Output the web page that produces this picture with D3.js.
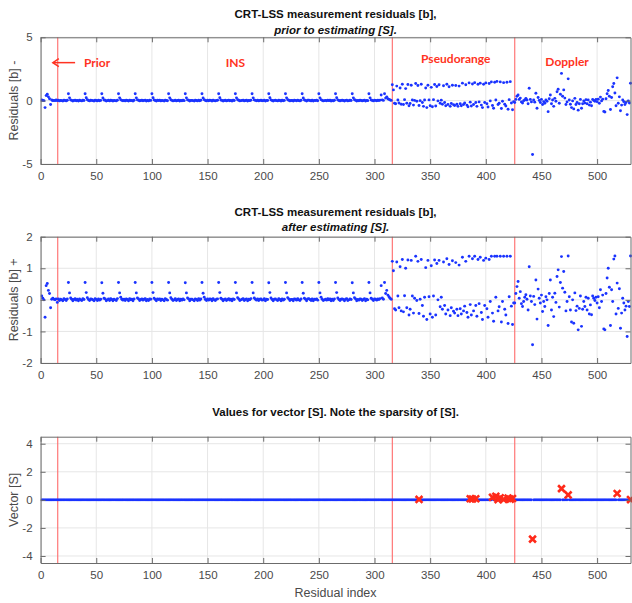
<!DOCTYPE html>
<html><head><meta charset="utf-8">
<script src="https://cdn.jsdelivr.net/npm/d3@7"></script>
<style>body{margin:0;background:#fff}svg{display:block}</style>
</head><body><svg id="c" width="632" height="603"></svg>
<script>
// ---------------- DATA ----------------
const xTicks = [0,50,100,150,200,250,300,350,400,450,500];
const yTicksTop = [-5,0,5];
const yTicksMid = [-2,-1,0,1,2];
const yTicksBot = [-4,-2,0,2,4];
const separators = [15.4, 316, 426];
const sectionLabels = ["Prior","INS","Pseudorange","Doppler"];

// Residuals, prior section (index 1..15)
const priorBefore = [0.05,0.02,0.00,-0.55,0.40,0.50,0.30,0.15,-0.30,0.05,0.00,0.02,0.00,0.05,0.00];
const priorAfter  = [0.12,0.05,0.00,-0.55,0.45,0.52,0.30,0.20,-0.25,0.02,0.05,0.02,0.00,0.03,-0.08];
// INS section (index 16..315), same in both panels
const insResid = [
 0.03,-0.02,0.02,0.00,-0.03,0.04,0.01,-0.02,0.03,0.55,0.22,0.06,0.02,-0.03,0.01,
 0.04,-0.01,0.02,-0.03,0.03,0.00,-0.02,0.04,0.01,0.55,0.23,0.07,0.01,-0.02,0.03,
 0.02,0.00,-0.03,0.04,0.01,-0.02,0.03,-0.01,0.02,0.54,0.21,0.05,0.03,-0.03,0.00,
 0.03,-0.02,0.04,0.01,-0.03,0.02,0.00,-0.02,0.04,0.55,0.22,0.08,0.02,-0.01,0.02,
 -0.02,0.03,0.01,-0.03,0.04,0.00,0.02,-0.03,0.03,0.55,0.22,0.06,0.03,-0.02,0.01,
 0.03,-0.01,0.02,0.04,-0.03,0.01,-0.02,0.03,0.02,0.55,0.23,0.05,0.01,-0.03,0.03,
 0.01,0.03,-0.02,0.02,0.00,-0.03,0.04,0.01,-0.01,0.55,0.22,0.07,0.02,-0.02,0.00,
 0.04,-0.02,0.01,0.03,-0.03,0.02,-0.01,0.03,0.00,0.54,0.22,0.06,0.03,-0.03,0.02,
 0.02,0.00,-0.03,0.03,0.01,-0.02,0.04,-0.01,0.03,0.55,0.21,0.08,0.01,-0.02,0.03,
 -0.01,0.03,0.02,-0.03,0.04,0.00,-0.02,0.02,0.03,0.55,0.23,0.05,0.02,-0.03,0.01,
 0.03,-0.02,0.01,0.04,-0.01,0.02,-0.03,0.03,0.01,0.55,0.22,0.07,0.03,-0.02,0.00,
 0.02,0.04,-0.02,0.01,0.03,-0.03,0.02,0.00,0.04,0.55,0.22,0.06,0.02,-0.01,0.03,
 -0.02,0.02,0.03,-0.01,0.00,0.04,-0.03,0.02,0.01,0.54,0.23,0.06,0.01,-0.03,0.02,
 0.03,0.00,-0.02,0.04,0.01,-0.03,0.03,-0.01,0.02,0.55,0.22,0.07,0.03,-0.02,0.01,
 0.01,-0.03,0.03,0.02,-0.01,0.04,0.00,-0.02,0.03,0.55,0.21,0.05,0.02,-0.03,0.03,
 0.04,0.01,-0.02,0.03,-0.03,0.02,0.01,0.03,-0.01,0.55,0.22,0.08,0.02,-0.02,0.00,
 0.02,-0.01,0.04,0.00,0.03,-0.03,0.02,-0.02,0.03,0.55,0.23,0.06,0.01,-0.02,0.02,
 0.03,0.01,-0.03,0.02,0.04,-0.02,0.00,0.03,0.01,0.54,0.22,0.07,0.03,-0.03,0.01,
 -0.01,0.03,0.02,-0.02,0.01,0.04,-0.03,0.02,0.00,0.55,0.22,0.05,0.02,-0.02,0.03,
 0.02,-0.01,0.03,0.01,0.04,0.45,0.06,0.02,0.55,0.20,0.30,0.15,0.10,0.05,0.02];
// Pseudorange section (index 316..425)
const prBefore = [
 1.25,0.85,-0.20,-0.25,1.15,0.05,-0.18,1.00,-0.28,1.30,
 -0.30,0.08,0.95,-0.20,1.28,-0.40,-0.22,1.22,0.05,-0.35,
 0.02,1.35,-0.05,1.20,-0.38,0.00,1.30,-0.15,-0.45,0.05,
 1.00,-0.55,1.22,0.06,-0.40,1.05,-0.48,0.08,1.28,-0.42,
 1.12,-0.02,1.25,-0.20,0.04,-0.28,1.18,-0.15,-0.40,1.30,
 -0.30,1.10,-0.45,-0.22,1.22,-0.32,-0.38,1.20,-0.28,-0.45,
 1.15,-0.25,-0.40,1.38,-0.30,-0.18,1.25,-0.35,-0.48,1.40,
 -0.12,-0.42,1.32,-0.30,1.42,-0.15,-0.45,1.30,-0.10,1.38,
 -0.35,-0.55,1.30,-0.15,1.40,-0.25,-0.50,1.35,-0.02,1.48,
 -0.38,-0.60,1.45,0.05,1.52,-0.30,-0.20,1.48,-0.62,-0.05,
 1.42,-0.28,-0.42,1.45,-0.68,0.08,1.50,-0.18,-0.72,-0.08];
const prAfter = [
 1.22,0.92,-0.28,-0.32,1.20,0.12,-0.25,1.05,-0.35,1.28,
 -0.38,0.13,1.00,-0.25,1.26,-0.48,-0.30,1.25,0.12,-0.42,
 0.05,1.38,-0.02,1.22,-0.43,0.02,1.28,-0.18,-0.52,0.08,
 1.02,-0.62,1.25,0.10,-0.45,1.08,-0.55,0.12,1.26,-0.48,
 1.15,0.00,1.25,-0.22,0.08,-0.30,1.20,-0.18,-0.45,1.30,
 -0.32,1.12,-0.50,-0.25,1.24,-0.36,-0.42,1.18,-0.30,-0.50,
 1.10,-0.28,-0.45,1.35,-0.35,-0.20,1.22,-0.40,-0.55,1.38,
 -0.15,-0.48,1.30,-0.35,1.38,-0.18,-0.52,1.28,-0.12,1.35,
 -0.40,-0.62,1.25,-0.18,1.32,-0.28,-0.55,1.28,-0.05,1.38,
 -0.42,-0.68,1.38,0.08,1.38,-0.35,-0.22,1.38,-0.70,-0.05,
 1.38,-0.30,-0.48,1.38,-0.75,0.10,1.38,-0.20,-0.78,-0.10];
// Doppler section (index 426..530)
const dopBefore = [
 -0.15,0.10,0.35,0.45,0.10,0.20,-0.10,-0.18,0.00,0.05,
 0.18,0.05,-0.25,0.98,0.10,-0.10,-4.25,0.05,-0.12,0.58,
 -0.60,0.25,0.02,-0.15,0.10,-0.30,-0.08,-0.20,0.05,-0.05,
 -0.87,0.15,0.45,-0.25,0.05,-0.45,0.18,-0.05,0.70,0.90,
 -0.20,0.50,2.15,0.35,0.85,0.20,-0.30,-0.10,1.72,0.05,
 -0.28,-0.55,-0.02,-0.65,0.18,-0.30,-0.15,-0.75,-0.25,0.10,
 -0.60,-0.25,-0.02,-0.18,0.08,-0.25,0.05,-0.35,-0.12,-0.40,
 0.10,0.02,-0.05,0.10,-0.08,0.12,-0.20,0.28,-0.02,0.12,
 -0.85,-0.90,0.15,0.55,0.80,0.35,-0.70,0.25,1.10,1.35,
 0.60,-0.40,1.80,-0.20,0.30,-0.80,-0.35,0.05,-0.08,-0.30,
 -0.15,-1.10,-0.02,-0.18,1.37];
const dopAfter = [
 -0.10,0.20,0.42,0.58,0.05,0.26,-0.12,-0.21,-0.05,0.08,
 0.16,0.02,-0.32,1.05,0.12,-0.05,-1.42,0.11,-0.15,0.63,
 -0.61,0.34,0.05,-0.10,0.15,-0.37,-0.05,-0.21,0.10,0.00,
 -0.81,0.20,0.63,-0.32,0.08,-0.53,0.21,-0.08,0.74,0.95,
 -0.23,0.55,1.37,0.37,0.90,0.24,-0.35,-0.05,1.39,0.10,
 -0.32,-0.70,0.00,-0.74,0.22,-0.34,-0.20,-0.95,-0.27,0.12,
 -0.84,-0.30,-0.05,-0.21,0.08,-0.32,0.05,-0.45,-0.16,-0.47,
 0.12,0.05,-0.02,0.08,-0.10,0.10,-0.25,0.32,-0.05,0.15,
 -0.92,-0.95,0.20,0.69,1.00,0.40,-0.81,0.32,-0.05,1.29,
 1.39,-0.45,0.53,-0.27,0.35,-0.90,-0.42,0.05,-0.10,-0.32,
 -0.20,-1.16,-0.05,-0.21,1.39];
// Sparse vector [S]: non-zero entries
const sIndex = [340,386,388,391,406,409,411,413,416,420,422,424,442,468,474,518,530];
const sValue = [0.03,0.08,0.06,0.08,0.18,0.25,0.02,0.15,0.03,0.12,0.05,0.10,-2.80,0.80,0.35,0.45,0.02];

// ---------------- BUILD ----------------
const residBefore = [].concat(priorBefore, insResid, prBefore, dopBefore);
const residAfter  = [].concat(priorAfter, insResid, prAfter, dopAfter);
const N = residBefore.length; // 530
const sVector = d3.range(N).map(() => 0);
sIndex.forEach((k,i) => { sVector[k-1] = sValue[i]; });

const svg = d3.select("#c");
const FONT = "'Liberation Sans', Arial, Helvetica, sans-serif";
const left = 40.6, right = 630.5;
const x = d3.scaleLinear().domain([0, 530]).range([left, right]);
const fmt = d => String(d);

function panel(o){
  const y = d3.scaleLinear().domain(o.domain).range([o.bottom, o.top]);
  const g = svg.append("g");
  // grid
  g.append("g").selectAll("line").data(xTicks).join("line")
    .attr("x1", d=>x(d)).attr("x2", d=>x(d)).attr("y1", o.top).attr("y2", o.bottom)
    .attr("stroke", "#e6e6e6").attr("stroke-width", 1);
  g.append("g").selectAll("line").data(o.yTicks).join("line")
    .attr("x1", left).attr("x2", right).attr("y1", d=>y(d)).attr("y2", d=>y(d))
    .attr("stroke", "#e6e6e6").attr("stroke-width", 1);
  // separators
  g.append("g").selectAll("line").data(separators).join("line")
    .attr("x1", d=>x(d)).attr("x2", d=>x(d)).attr("y1", o.top).attr("y2", o.bottom)
    .attr("stroke", "#ff6a6a").attr("stroke-width", 1.1);
  // clip for data
  const cid = "clip" + o.id;
  svg.append("clipPath").attr("id", cid).append("rect")
    .attr("x", left).attr("y", o.top - 2).attr("width", right - left + 2).attr("height", o.bottom - o.top + 4);
  const dg = g.append("g").attr("clip-path", `url(#${cid})`);
  dg.selectAll("circle").data(o.values).join("circle")
    .attr("cx", (d,i)=>x(i+1)).attr("cy", d=>y(d)).attr("r", o.r)
    .attr("fill", "#1a33ff");
  if (o.crosses){
    const s = 3.4;
    const cg = dg.append("g").selectAll("g").data(o.crosses).join("g")
      .attr("transform", d=>`translate(${x(d[0])},${y(d[1])})`);
    cg.append("path").attr("d", `M${-s},${-s}L${s},${s}M${-s},${s}L${s},${-s}`)
      .attr("stroke", "#ff2a1a").attr("stroke-width", 2.6).attr("fill","none");
  }
  // axes
  const ax = g.append("g").attr("font-family", FONT);
  const bottomAx = d3.axisBottom(x).tickValues(xTicks).tickSizeInner(-5).tickSizeOuter(0).tickPadding(8).tickFormat(fmt);
  const topAx = d3.axisTop(x).tickValues(xTicks).tickSizeInner(-5).tickSizeOuter(0).tickFormat("");
  const leftAx = d3.axisLeft(y).tickValues(o.yTicks).tickSizeInner(-5).tickSizeOuter(0).tickPadding(8).tickFormat(fmt);
  const rightAx = d3.axisRight(y).tickValues(o.yTicks).tickSizeInner(-5).tickSizeOuter(0).tickFormat("");
  ax.append("g").attr("transform", `translate(0,${o.bottom})`).call(bottomAx);
  ax.append("g").attr("transform", `translate(0,${o.top})`).call(topAx);
  ax.append("g").attr("transform", `translate(${left},0)`).call(leftAx);
  ax.append("g").attr("transform", `translate(${right},0)`).call(rightAx);
  ax.selectAll(".domain").attr("stroke", "#6b6b6b").attr("stroke-width", 1);
  ax.selectAll(".tick line").attr("stroke", "#6b6b6b");
  ax.selectAll(".tick text").attr("fill", "#4a4a4a").attr("font-size", 11.5).attr("font-family", FONT);
  // titles
  o.title.forEach((t,i)=>{
    svg.append("text").attr("x", (left+right)/2).attr("y", o.titleY[i])
      .attr("text-anchor","middle").attr("font-family", FONT).attr("font-size", 11.5)
      .attr("font-weight","bold").attr("font-style", i===1 ? "italic" : "normal")
      .attr("fill","#111").text(t);
  });
  // y label
  svg.append("text").attr("transform", `translate(${o.ylabX},${(o.top+o.bottom)/2}) rotate(-90)`)
    .attr("text-anchor","middle").attr("font-family", FONT).attr("font-size", 12.5)
    .attr("fill","#4a4a4a").text(o.ylabel);
  return y;
}

const yTop = panel({id:1, domain:[-5,5], top:37.3, bottom:164, yTicks:yTicksTop, values:residBefore, r:1.45,
  title:["CRT-LSS measurement residuals [b],","prior to estimating [S]."], titleY:[18,34], ylabel:"Residuals [b] -", ylabX:18});
panel({id:2, domain:[-2,2], top:236.7, bottom:363, yTicks:yTicksMid, values:residAfter, r:1.45,
  title:["CRT-LSS measurement residuals [b],","after estimating [S]."], titleY:[216,231], ylabel:"Residuals [b] +", ylabX:18});
panel({id:3, domain:[-4.5,4.5], top:436.7, bottom:563, yTicks:yTicksBot, values:sVector, r:1.35,
  crosses: sIndex.map((k,i)=>[k, sValue[i]]),
  title:["Values for vector [S]. Note the sparsity of [S]."], titleY:[416], ylabel:"Vector [S]", ylabX:18});

svg.append("text").attr("x", (left+right)/2).attr("y", 597).attr("text-anchor","middle")
  .attr("font-family", FONT).attr("font-size", 12.5).attr("fill","#4a4a4a").text("Residual index");

// section annotations in top panel
const annFont = "Lato, 'Open Sans', sans-serif";
const ann = svg.append("g").attr("font-family", annFont).attr("font-weight","bold")
  .attr("font-size", 12).attr("fill","#ff3322");
const annX = [39, 175, 373, 473]; // data-space x for each label
const annY = [3.0, 3.0, 3.3, 3.1];
sectionLabels.forEach((t,i)=>{
  ann.append("text").attr("x", x(annX[i])).attr("y", yTop(annY[i])).attr("dy","0.35em")
    .attr("text-anchor", i===0 ? "start" : "middle").text(t);
});
// arrow for Prior
const ay = yTop(3.0);
ann.append("line").attr("x1", x(31)).attr("x2", x(11)).attr("y1", ay).attr("y2", ay)
  .attr("stroke","#ff3322").attr("stroke-width",1.5);
ann.append("path").attr("d", `M${x(11)+6},${ay-4}L${x(11)},${ay}L${x(11)+6},${ay+4}`)
  .attr("stroke","#ff3322").attr("stroke-width",1.5).attr("fill","none");
</script></body></html>
